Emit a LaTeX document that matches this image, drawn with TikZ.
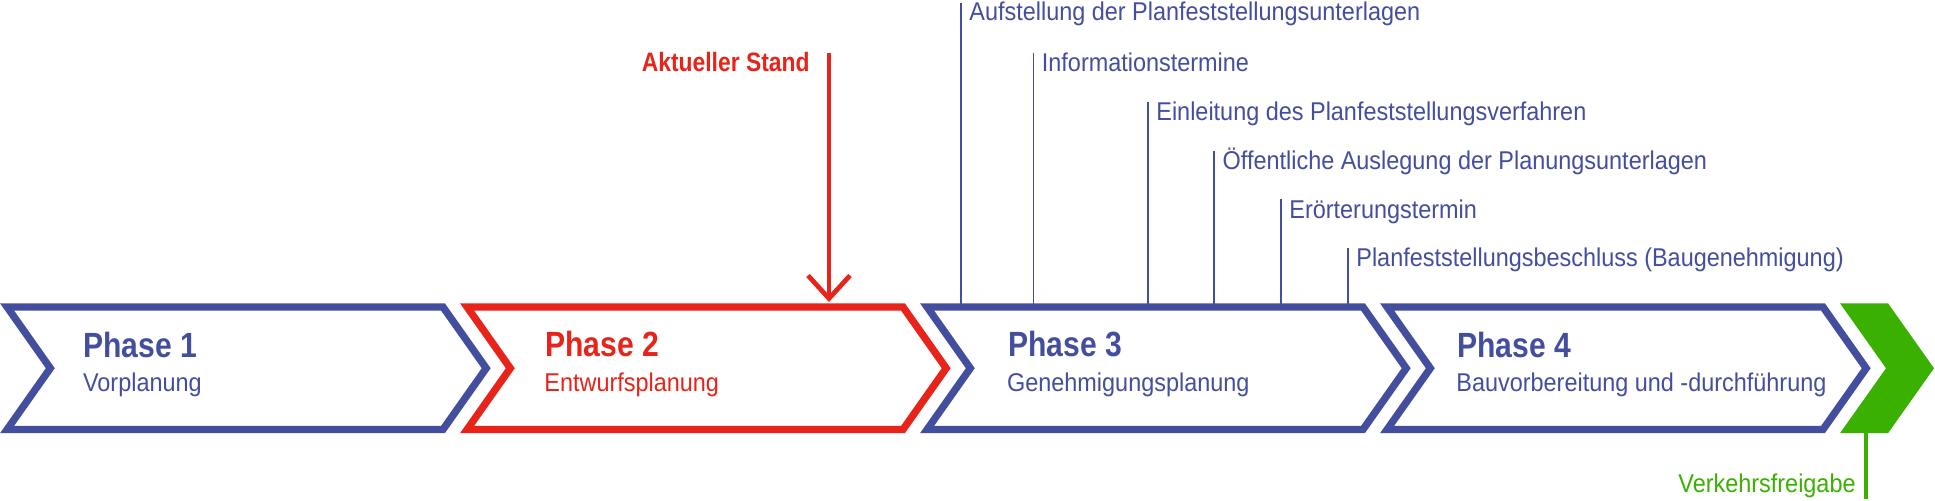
\documentclass[tikz,border=0pt]{standalone}
\usepackage{fontspec}
\setmainfont{Liberation Sans}[FakeStretch=0.912]
\newfontfamily\boldfont{Liberation Sans}[FakeStretch=0.86]
\usetikzlibrary{calc}
\definecolor{pblue}{RGB}{68,78,158}
\definecolor{pred}{RGB}{232,35,26}
\definecolor{pgreen}{RGB}{58,176,0}
\begin{document}
\begin{tikzpicture}[x=0.5pt,y=-0.5pt,
  chev/.style={line width=3.65pt, line join=miter, miter limit=10},
  lbl/.style={anchor=base west, inner sep=0pt, text=pblue, font=\fontsize{12.85}{14}\selectfont},
  phasetitle/.style={anchor=base west, inner sep=0pt, font=\boldfont\bfseries\fontsize{17.5}{20}\selectfont},
  phasesub/.style={anchor=base west, inner sep=0pt, font=\fontsize{12.85}{14}\selectfont},
  tick/.style={draw=pblue, line width=0.95pt},
  redarrow/.style={draw=pred, line width=2.35pt, line join=miter}]
\useasboundingbox (0,0) rectangle (1935,501);
\fill[white] (0,0) rectangle (1935,501);

% chevrons
\foreach \i/\c in {0/pblue,1/pred,2/pblue,3/pblue}{
  \begin{scope}[shift={(\i*460,0)}]
    \draw[chev,\c] (7.1,307) -- (443,307) -- (486.2,368.25) -- (443,429.5) -- (7.1,429.5) -- (50.3,368.25) -- cycle;
  \end{scope}
}
\fill[pgreen] (1840,303.3) -- (1888,303.3) -- (1934,368.25) -- (1888,433.2) -- (1840,433.2) -- (1886,368.25) -- cycle;

% phase texts
\node[phasetitle,text=pblue] (p1) at (82.7,357.7) {Phase 1};
\node[phasesub,text=pblue] (s1) at (82.7,391.7) {Vorplanung};
\node[phasetitle,text=pred] (p2) at (545,356.7) {Phase 2};
\node[phasesub,text=pred] (s2) at (544,391.7) {Entwurfsplanung};
\node[phasetitle,text=pblue] (p3) at (1007.7,357) {Phase 3};
\node[phasesub,text=pblue] (s3) at (1006.7,391.7) {Genehmigungsplanung};
\node[phasetitle,text=pblue] (p4) at (1456.7,357.5) {Phase 4};
\node[phasesub,text=pblue] (s4) at (1456,391.7) {Bauvorbereitung und -durchführung};

% milestones of phase 3
\foreach \n/\x/\t/\b/\txt in {
  m1/961/3/21/{Aufstellung der Planfeststellungsunterlagen},
  m2/1033.5/52.7/71.7/{Informationstermine},
  m3/1148/101.7/120.7/{Einleitung des Planfeststellungsverfahren},
  m4/1214.3/150.7/169.3/{Öffentliche Auslegung der Planungsunterlagen},
  m5/1281/199.3/218.3/{Erörterungstermin},
  m6/1348/248.3/266.7/{Planfeststellungsbeschluss (Baugenehmigung)}}{
  \coordinate (\n top) at (\x,\t);
  \coordinate (\n bot) at (\x,305);
  \draw[tick] (\n top) -- (\n bot);
  \node[lbl] (\n) at (\x+8,\b) {\txt};
}

% current state arrow
\node[anchor=base east, inner sep=0pt, text=pred, font=\boldfont\bfseries\fontsize{13.3}{15}\selectfont] (stand) at (810,72) {Aktueller Stand};
\coordinate (arrowtop) at (829,53);
\coordinate (arrowtip) at (829,298.5);
\draw[redarrow] (arrowtop) -- (arrowtip);
\draw[redarrow] ($(arrowtip)+(-21,-23)$) -- (arrowtip) -- ($(arrowtip)+(21,-23)$);

% traffic release
\coordinate (gtop) at (1866,432);
\coordinate (gbot) at (1866,499);
\draw[pgreen, line width=1.65pt] (gtop) -- (gbot);
\node[anchor=base east, inner sep=0pt, text=pgreen, font=\fontsize{12.85}{14}\selectfont] (vf) at (1856,493) {Verkehrsfreigabe};
\end{tikzpicture}
\end{document}
